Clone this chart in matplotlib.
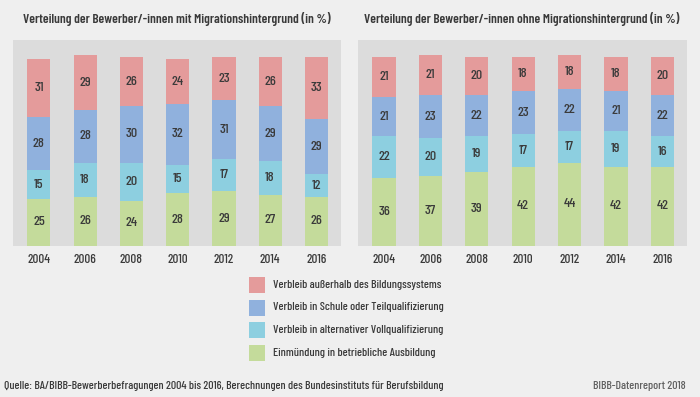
import matplotlib
matplotlib.use("Agg")
import matplotlib.pyplot as plt
from matplotlib.patches import Rectangle
import numpy as np

FAM = ['Barlow Condensed', 'Barlow Semi Condensed', 'Asap Condensed', 'DejaVu Sans']
plt.rcParams['font.family'] = FAM

years = ["2004", "2006", "2008", "2010", "2012", "2014", "2016"]
series_names = [
    "Einmündung in betriebliche Ausbildung",
    "Verbleib in alternativer Vollqualifizierung",
    "Verbleib in Schule oder Teilqualifizierung",
    "Verbleib außerhalb des Bildungssystems",
]
colors = ["#c4db9b", "#8dcfe0", "#90b1dd", "#e49b9b"]

mit_ausbildung = [25, 26, 24, 28, 29, 27, 26]
mit_alternativ = [15, 18, 20, 15, 17, 18, 12]
mit_schule = [28, 28, 30, 32, 31, 29, 29]
mit_ausserhalb = [31, 29, 26, 24, 23, 26, 33]

ohne_ausbildung = [36, 37, 39, 42, 44, 42, 42]
ohne_alternativ = [22, 20, 19, 17, 17, 19, 16]
ohne_schule = [21, 23, 22, 23, 22, 21, 22]
ohne_ausserhalb = [21, 21, 20, 18, 18, 18, 20]

title_mit = "Verteilung der Bewerber/-innen mit Migrationshintergrund (in %)"
title_ohne = "Verteilung der Bewerber/-innen ohne Migrationshintergrund (in %)"
source = "Quelle: BA/BIBB-Bewerberbefragungen 2004 bis 2016, Berechnungen des Bundesinstituts für Berufsbildung"
report = "BIBB-Datenreport 2018"

W, H = 700, 397
fig = plt.figure(figsize=(7.0, 3.97), dpi=100)
fig.patch.set_facecolor("#efefef")
txt = "#3a3a3a"
BODY = "medium"
renderer = fig.canvas.get_renderer()


def fit_size(s, target_px, weight=BODY):
    t = fig.text(0, 0, s, fontsize=10, fontweight=weight)
    w = t.get_window_extent(renderer).width
    t.remove()
    return 10 * target_px / w


def fx(px):
    return px / W


def fy(py):
    return 1 - py / H


title_fs = fit_size(title_mit, 307, "semibold")
num_fs = fit_size("28", 12)
year_fs = fit_size("2004", 23)
leg_fs = fit_size(series_names[3], 169)
src_fs = fit_size(source, 439)


def panel(x0, x1, data, title, tcx):
    ax = fig.add_axes([fx(x0), fy(246), fx(x1 - x0), fy(40) - fy(246)])
    ax.set_facecolor("#dcdcdc")
    x = np.arange(len(years))
    bottom = np.zeros(len(years))
    for vals, col in zip(data, colors):
        vals = np.array(vals, dtype=float)
        ax.bar(x, vals, width=0.5, bottom=bottom, color=col, edgecolor="none")
        for xi, b, v in zip(x, bottom, vals):
            ax.text(xi, b + v / 2, f"{int(v)}", ha="center", va="center",
                    fontsize=num_fs, fontweight=BODY, color=txt)
        bottom += vals
    ax.set_xlim(-0.56, len(years) - 1 + 0.53)
    ax.set_ylim(0, 109)
    for s in ax.spines.values():
        s.set_visible(False)
    ax.set_yticks([])
    ax.set_xticks(x)
    ax.set_xticklabels(years, fontsize=year_fs, fontweight=BODY, color=txt)
    ax.tick_params(axis="x", length=0, pad=6)
    fig.text(fx(tcx), fy(19), title, ha="center", va="center",
             fontsize=title_fs, fontweight="semibold", color=txt)
    return ax


panel(13, 341, [mit_ausbildung, mit_alternativ, mit_schule, mit_ausserhalb], title_mit, 176.5)
panel(358, 687, [ohne_ausbildung, ohne_alternativ, ohne_schule, ohne_ausserhalb], title_ohne, 521.5)

# legend
leg_order = [3, 2, 1, 0]
for i, k in enumerate(leg_order):
    cy = 285 + i * 22.5
    fig.add_artist(Rectangle((fx(249), fy(cy + 8)), fx(16), fy(cy - 8) - fy(cy + 8),
                             transform=fig.transFigure, facecolor=colors[k],
                             edgecolor="none"))
    fig.text(fx(273), fy(cy), series_names[k], ha="left", va="center",
             fontsize=leg_fs, fontweight=BODY, color=txt)

fig.text(fx(4), fy(386), source, ha="left", va="center", fontsize=src_fs,
         fontweight=BODY, color=txt)
fig.text(fx(686), fy(386), report, ha="right", va="center", fontsize=src_fs,
         fontweight=BODY, color="#606060")

fig.savefig("out.png", dpi=100, facecolor=fig.get_facecolor())
